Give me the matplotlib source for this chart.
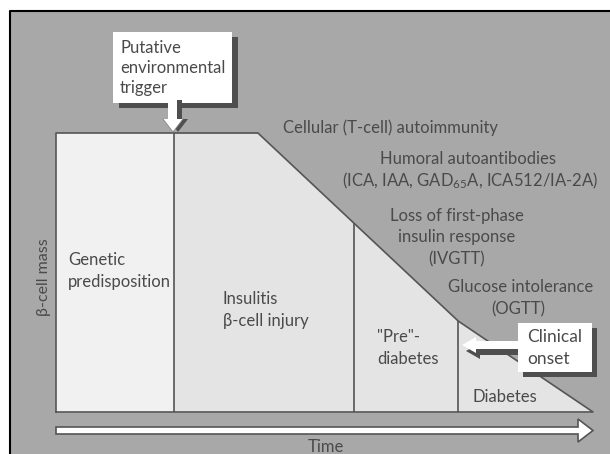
import numpy as np
import matplotlib
matplotlib.use("Agg")
import matplotlib.pyplot as plt
from matplotlib.patches import Rectangle, Polygon

# ---------------- data ----------------
# beta-cell mass (% of normal) over time (% of the course to diabetes)
time_pts = [0.0, 37.6, 74.9, 100.0]
mass_pts = [100.0, 100.0, 32.6, 0.0]
# boundaries between stages (time)
stage_bounds = [22.0, 55.5, 74.9]

FONT = ["Lato", "DejaVu Sans"]
plt.rcParams["font.family"] = FONT
plt.rcParams["mathtext.fontset"] = "custom"
plt.rcParams["mathtext.rm"] = "Lato"
plt.rcParams["mathtext.it"] = "Lato:italic"
plt.rcParams["mathtext.bf"] = "Lato:bold"

W, H = 610, 454
fig = plt.figure(figsize=(W / 100, H / 100), dpi=100)
fig.patch.set_facecolor("white")

PANEL = "#a8a8a8"
LIGHT = "#e4e4e4"
WHITE_REG = "#f1f1f1"
LINE = "#555555"
TXT = "#4a4a4a"
SHADOW = "#4f4f4f"

# background panel (pixel coordinates)
bg = fig.add_axes([0, 0, 1, 1], zorder=0)
bg.set_xlim(0, W); bg.set_ylim(H, 0); bg.axis("off")
bg.add_patch(Rectangle((10, 11), W - 10, H - 11, fc=PANEL, ec="none"))
bg.plot([10, 10, W], [H, 11, 11], color="black", lw=1.5, solid_capstyle="butt")

# data axes
x0, x1, ytop, ybot = 56, 593, 133, 412
ax = fig.add_axes([x0 / W, 1 - ybot / H, (x1 - x0) / W, (ybot - ytop) / H], zorder=1)
ax.set_xlim(0, 100); ax.set_ylim(0, 100)
ax.patch.set_alpha(0); ax.axis("off")

t = np.array(time_pts); m = np.array(mass_pts)
ax.fill_between(t, m, 0, color=LIGHT, lw=0)
tt = np.array([0, stage_bounds[0]])
ax.fill_between(tt, np.interp(tt, t, m), 0, color=WHITE_REG, lw=0)
ax.plot([0, *time_pts, 0], [0, *mass_pts, 0], color=LINE, lw=1.2, clip_on=False)
ax.vlines(stage_bounds, 0, np.interp(stage_bounds, t, m), color=LINE, lw=1.2)

# foreground annotations (pixel coordinates)
fg = fig.add_axes([0, 0, 1, 1], zorder=2)
fg.set_xlim(0, W); fg.set_ylim(H, 0); fg.axis("off"); fg.patch.set_alpha(0)

def txt(x, y, s, ha="left", size=12, **kw):
    fg.text(x, y, s, ha=ha, va="center", fontsize=size, color=TXT, family=FONT, **kw)

# time arrow (hollow)
time_arrow = [(56, 427), (578, 427), (578, 419), (593, 430.5), (578, 442), (578, 434), (56, 434)]
fg.add_patch(Polygon(time_arrow, closed=True, fc="white", ec=LINE, lw=1.2))
txt(308, 447, "Time")

# putative environmental trigger box + arrow
fg.add_patch(Rectangle((119, 37), 119, 71, fc=SHADOW, ec="none"))
fg.add_patch(Rectangle((113, 32), 119, 71, fc="white", ec="none"))
down = [(168, 100), (177, 100), (177, 119), (183, 119), (173, 132), (163, 119), (168, 119)]
fg.add_patch(Polygon([(x + 5, y) for x, y in down], closed=True, fc=SHADOW, ec="none"))
fg.add_patch(Polygon(down, closed=True, fc="white", ec="none"))
fg.plot([163, 173, 183], [119, 132, 119], color="#888888", lw=0.6)
txt(120, 48, "Putative", size=12)
txt(120, 68, "environmental", size=12)
txt(120, 88, "trigger", size=12)

# clinical onset box + arrow
fg.add_patch(Rectangle((523, 328), 74, 49, fc=SHADOW, ec="none"))
left = [(518, 341), (476, 341), (476, 337), (462, 345), (476, 353), (476, 349), (518, 349)]
fg.add_patch(Polygon([(x + 4, y + 6) for x, y in left], closed=True, fc=SHADOW, ec="none"))
fg.add_patch(Polygon(left, closed=True, fc="white", ec="none"))
fg.add_patch(Rectangle((518, 323), 74, 49, fc="white", ec="none"))
txt(527, 337, "Clinical", size=12.5)
txt(527, 359, "onset", size=12.5)

# stage labels
txt(283, 128, "Cellular (T-cell) autoimmunity")
txt(468, 159, "Humoral autoantibodies", ha="center")
txt(470, 181, "(ICA, IAA, GAD$_{65}$A, ICA512/IA-2A)", ha="center")
txt(457, 216, "Loss of first-phase", ha="center")
txt(457, 237, "insulin response", ha="center")
txt(457, 259, "(IVGTT)", ha="center")
txt(521, 287, "Glucose intolerance", ha="center")
txt(518, 309, "(OGTT)", ha="center")
txt(68, 260, "Genetic")
txt(68, 282, "predisposition")
txt(223, 299, "Insulitis")
txt(223, 321, "β-cell injury")
txt(377, 337, "\"Pre\"-")
txt(377, 359, "diabetes")
txt(472, 397, "Diabetes")
fg.text(44, 277, "β-cell mass", rotation=90, ha="center", va="center",
        fontsize=11.5, color=TXT, family=FONT)

fig.savefig("out.png", dpi=100)
